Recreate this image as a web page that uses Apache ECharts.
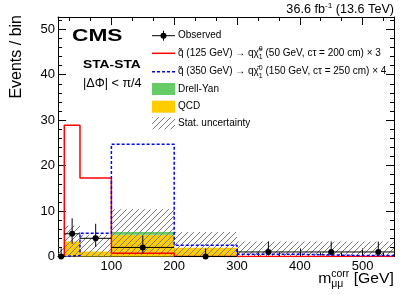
<!DOCTYPE html>
<html><head><meta charset="utf-8">
<script src="https://cdn.jsdelivr.net/npm/echarts@6/dist/echarts.min.js"></script>
<style>html,body{margin:0;padding:0;background:#fff}#c{width:411px;height:295px}</style>
</head><body><div id="c"></div>
<script>
// ---- data ----
const binLo = [15, 25, 50, 100, 200, 300, 400, 500];
const binHi = [25, 50, 100, 200, 300, 400, 500, 550];
const observed = [0, 5, 4, 2, 0, 1, 1, 1];
const obsErrUp = [1.8, 3.4, 3.2, 2.6, 1.8, 2.3, 2.3, 2.3];
const obsErrDown = [0, 2.2, 1.9, 1.3, 0, 0.8, 0.8, 0.8];
const qcd = [0.3, 3.3, 1.1, 4.8, 1.9, 0.1, 0.1, 0.1];
const drellYan = [0, 0, 0, 0.6, 0, 0, 0, 0];
const statLo = [0, 0, 0, 0.3, 0, 0, 0, 0];
const statHi = [2.0, 6.8, 4.8, 10.4, 5.4, 3.3, 3.3, 3.3];
const sig125 = [0, 28.9, 17.3, 0.7, 0, 0, 0, 0];
const sig350 = [0, 0.2, 5.1, 24.7, 2.5, 0.5, 0.2, 0.2];
const xMajorTicks = [100, 200, 300, 400, 500];
const yMajorTicks = [0, 10, 20, 30, 40, 50];

const FONT = '"Liberation Sans", Arial, Helvetica, sans-serif';
const mctx = document.createElement('canvas').getContext('2d');
function tw(t, size, bold) { mctx.font = (bold ? 'bold ' : '') + size + 'px ' + FONT; return mctx.measureText(t).width; }
function run(x, y, segs, align, sx) {
  sx = sx || 1;
  const items = []; let cx = 0;
  segs.forEach(s => {
    if (s.stack) {
      const w = Math.max(...s.stack.map(q => tw(q.t, q.size)));
      s.stack.forEach(q => items.push({ t: q.t, size: q.size, dy: q.dy, x: cx }));
      cx += w;
    } else { items.push(Object.assign({}, s, { x: cx })); cx += tw(s.t, s.size, s.bold); }
  });
  const total = cx * sx;
  const x0 = align === 'right' ? x - total : x;
  return items.map(it => ({
    type: 'text', x: x0 + it.x * sx, y: y + (it.dy || 0), scaleX: sx, z: 100,
    style: { text: it.t, font: (it.bold ? 'bold ' : '') + it.size + 'px ' + FONT, fill: '#000', verticalAlign: 'middle', align: 'left' }
  }));
}

// hatch pattern
const pc = document.createElement('canvas'); pc.width = 6; pc.height = 6;
const pctx = pc.getContext('2d');
pctx.strokeStyle = '#7a7a7a'; pctx.lineWidth = 1;
pctx.beginPath();
pctx.moveTo(0, 6); pctx.lineTo(6, 0);
pctx.moveTo(-1, 1); pctx.lineTo(1, -1);
pctx.moveTo(5, 7); pctx.lineTo(7, 5);
pctx.stroke();
const hatch = { image: pc, repeat: 'repeat' };

const GREEN = '#66cc66', YELLOW = '#ffcc00';

const xMinor = [];
[0].concat(xMajorTicks).forEach(m => { [100 / 3, 200 / 3].forEach(d => { const v = m + d; if (v > 15 && v < 550) xMinor.push(v); }); });

function stepData(vals) {
  const d = [];
  vals.forEach((v, i) => { d.push([binLo[i], v]); d.push([binHi[i], v]); });
  return d;
}
const bkgRects = binLo.map((lo, i) => [lo, binHi[i], 0, qcd[i]]);
const dyRects = binLo.map((lo, i) => [lo, binHi[i], qcd[i], qcd[i] + drellYan[i]]);
const statRects = binLo.map((lo, i) => [lo, binHi[i], statLo[i], statHi[i]]);
const obsData = binLo.map((lo, i) => [lo, binHi[i], observed[i], observed[i] - obsErrDown[i], observed[i] + obsErrUp[i]]);

function rectRender(fill) {
  return function (params, api) {
    const p0 = api.coord([api.value(0), api.value(2)]);
    const p1 = api.coord([api.value(1), api.value(3)]);
    return { type: 'rect', shape: { x: p0[0], y: p1[1], width: p1[0] - p0[0], height: p0[1] - p1[1] }, style: { fill: fill } };
  };
}

const chart = echarts.init(document.getElementById('c'), null, { renderer: 'canvas' });
const common = { splitLine: { show: false }, min: 15, max: 550, type: 'value' };
const axisLine = { show: true, lineStyle: { color: '#000', width: 1 } };
const graphics = [];
// CMS labels
graphics.push(...run(72, 37, [{ t: 'CMS', size: 16, bold: true }], 'left', 1.42));
graphics.push(...run(83, 65, [{ t: 'STA-STA', size: 11.5, bold: true }], 'left', 1.2));
graphics.push(...run(83, 84, [{ t: '|\u0394\u03A6| < \u03C0/4', size: 12 }], 'left', 1.05));
// lumi
graphics.push(...run(394, 10, [{ t: '36.6 fb', size: 12 }, { t: '-1', size: 8, dy: -4 }, { t: ' (13.6 TeV)', size: 12 }], 'right', 1.05));
// y title
graphics.push({ type: 'text', x: 17, y: 15, rotation: Math.PI / 2, z: 100, style: { text: 'Events / bin', font: '16px ' + FONT, fill: '#000', align: 'right', verticalAlign: 'middle' } });
// x title
graphics.push(...run(394, 279, [{ t: 'm', size: 15 }, { stack: [{ t: 'corr', size: 10, dy: -5 }, { t: '\u03BC\u03BC', size: 10, dy: 5 }] }, { t: ' [GeV]', size: 15 }], 'right', 1.05));
// legend
const LX0 = 152, LX1 = 175, TX = 178;
const rows = [35.7, 53.3, 71.7, 89, 106.7, 123.3];
graphics.push({ type: 'line', shape: { x1: LX0, y1: rows[0], x2: LX1, y2: rows[0] }, style: { stroke: '#000', lineWidth: 1 } });
graphics.push({ type: 'line', shape: { x1: 163.5, y1: rows[0] - 5, x2: 163.5, y2: rows[0] + 5 }, style: { stroke: '#000', lineWidth: 1 } });
graphics.push({ type: 'circle', shape: { cx: 163.5, cy: rows[0], r: 3 }, style: { fill: '#000' } });
graphics.push({ type: 'line', shape: { x1: LX0, y1: rows[1], x2: LX1, y2: rows[1] }, style: { stroke: '#ff0000', lineWidth: 1.5 } });
graphics.push({ type: 'line', shape: { x1: LX0, y1: rows[2], x2: LX1, y2: rows[2] }, style: { stroke: '#0000ff', lineWidth: 1.5, lineDash: [3, 2] } });
graphics.push({ type: 'rect', shape: { x: LX0, y: rows[3] - 6, width: LX1 - LX0, height: 12 }, style: { fill: GREEN } });
graphics.push({ type: 'rect', shape: { x: LX0, y: rows[4] - 6, width: LX1 - LX0, height: 12 }, style: { fill: YELLOW } });
graphics.push({ type: 'rect', shape: { x: LX0, y: rows[5] - 6, width: LX1 - LX0, height: 12 }, style: { fill: hatch } });
const LS = 10;
graphics.push(...run(TX, rows[0], [{ t: 'Observed', size: LS }]));
graphics.push(...run(TX, rows[1], [{ t: 'q\u0303 (125 GeV) \u2192 q\u03C7\u0303', size: LS }, { stack: [{ t: '0', size: 7, dy: -4 }, { t: '1', size: 7, dy: 4 }] }, { t: ' (50 GeV, c\u03C4 = 200 cm) \u00D7 3', size: LS }]));
graphics.push(...run(TX, rows[2], [{ t: 'q\u0303 (350 GeV) \u2192 q\u03C7\u0304', size: LS }, { stack: [{ t: '0', size: 7, dy: -4 }, { t: '1', size: 7, dy: 4 }] }, { t: ' (150 GeV, c\u03C4 = 250 cm) \u00D7 4', size: LS }]));
graphics.push(...run(TX, rows[3], [{ t: 'Drell-Yan', size: LS }]));
graphics.push(...run(TX, rows[4], [{ t: 'QCD', size: LS }]));
graphics.push(...run(TX, rows[5], [{ t: 'Stat. uncertainty', size: LS }]));

const option = {
  animation: false,
  backgroundColor: '#fff',
  grid: { left: 58, right: 17, top: 17, bottom: 38.5, containLabel: false },
  xAxis: [
    Object.assign({}, common, { position: 'bottom', axisLine: axisLine,
      axisTick: { show: true, inside: true, length: 8, customValues: xMajorTicks, lineStyle: { color: '#000' } },
      axisLabel: { show: true, customValues: xMajorTicks, fontSize: 13, color: '#000', margin: 3, fontFamily: FONT } }),
    Object.assign({}, common, { position: 'bottom', axisLine: { show: false },
      axisTick: { show: true, inside: true, length: 4, customValues: xMinor, lineStyle: { color: '#000' } }, axisLabel: { show: false } }),
    Object.assign({}, common, { position: 'top', axisLine: axisLine,
      axisTick: { show: true, inside: true, length: 8, customValues: xMajorTicks, lineStyle: { color: '#000' } }, axisLabel: { show: false } }),
    Object.assign({}, common, { position: 'top', axisLine: { show: false },
      axisTick: { show: true, inside: true, length: 4, customValues: xMinor, lineStyle: { color: '#000' } }, axisLabel: { show: false } })
  ],
  yAxis: [
    { type: 'value', min: 0, max: 52.7, interval: 10, position: 'left', splitLine: { show: false }, axisLine: axisLine,
      axisTick: { show: true, inside: true, length: 8, lineStyle: { color: '#000' } },
      minorTick: { show: true, splitNumber: 5, length: 4, lineStyle: { color: '#000' } },
      axisLabel: { fontSize: 13, color: '#000', margin: 3, fontFamily: FONT, customValues: yMajorTicks } },
    { type: 'value', min: 0, max: 52.7, interval: 10, position: 'right', splitLine: { show: false }, axisLine: axisLine,
      axisTick: { show: true, inside: true, length: 8, lineStyle: { color: '#000' } },
      minorTick: { show: true, splitNumber: 5, length: 4, lineStyle: { color: '#000' } },
      axisLabel: { show: false } }
  ],
  series: [
    { type: 'custom', name: 'QCD', renderItem: rectRender(YELLOW), data: bkgRects, z: 1 },
    { type: 'custom', name: 'Drell-Yan', renderItem: rectRender(GREEN), data: dyRects, z: 2 },
    { type: 'custom', name: 'Stat', renderItem: rectRender(hatch), data: statRects, z: 3 },
    { type: 'line', name: 'sig125', data: stepData(sig125), symbol: 'none', lineStyle: { color: '#ff0000', width: 1.5 }, z: 4 },
    { type: 'line', name: 'sig350', data: stepData(sig350), symbol: 'none', lineStyle: { color: '#0000ff', width: 1.5, type: [3, 2] }, z: 5 },
    { type: 'custom', name: 'Observed', clip: false, z: 10, data: obsData,
      renderItem: function (params, api) {
        const lo = api.coord([api.value(0), api.value(2)]);
        const hi = api.coord([api.value(1), api.value(2)]);
        const cx = (lo[0] + hi[0]) / 2;
        const yd = api.coord([api.value(0), api.value(3)])[1];
        const yu = api.coord([api.value(0), api.value(4)])[1];
        return { type: 'group', children: [
          { type: 'line', shape: { x1: lo[0], y1: lo[1], x2: hi[0], y2: hi[1] }, style: { stroke: '#000', lineWidth: 1 } },
          { type: 'line', shape: { x1: cx, y1: yd, x2: cx, y2: yu }, style: { stroke: '#000', lineWidth: 1 } },
          { type: 'circle', shape: { cx: cx, cy: lo[1], r: 3 }, style: { fill: '#000' } }
        ] };
      } }
  ],
  graphic: graphics
};
chart.setOption(option);
</script></body></html>
